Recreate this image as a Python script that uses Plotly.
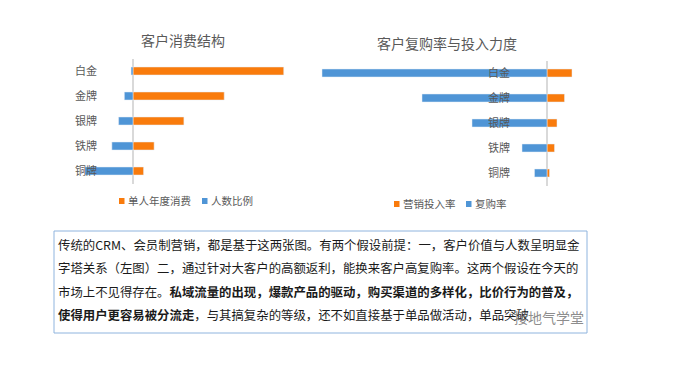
import plotly.graph_objects as go

# ---------------- data ----------------
tiers = ["白金", "金牌", "银牌", "铁牌", "铜牌"]
# left chart: 客户消费结构
spend_per_person = [157, 95, 53, 22, 11]   # 单人年度消费 (relative units)
people_share = [2, 9, 15, 22, 50]          # 人数比例 (%)
# right chart: 客户复购率与投入力度
marketing_rate = [10, 7, 4, 3, 1]          # 营销投入率 (%)
repurchase_rate = [90, 50, 30, 10, 5]      # 复购率 (%)

title_left = "客户消费结构"
title_right = "客户复购率与投入力度"
legend_left = ["单人年度消费", "人数比例"]
legend_right = ["营销投入率", "复购率"]
text_lines = [
    "传统的CRM、会员制营销，都是基于这两张图。有两个假设前提：一，客户价值与人数呈明显金",
    "字塔关系（左图）二，通过针对大客户的高额返利，能换来客户高复购率。这两个假设在今天的",
    "市场上不见得存在。<b>私域流量的出现，爆款产品的驱动，购买渠道的多样化，比价行为的普及，</b>",
    "<b>使得用户更容易被分流走</b>，与其搞复杂的等级，还不如直接基于单品做活动，单品突破",
]
watermark = "接地气学堂"

# ---------------- style ----------------
W, H = 690, 376
ORANGE = "#F97B0C"
BLUE = "#4F95D6"
GRAY = "#595959"
FONT = "Noto Sans CJK SC"

def px(x):
    return x / W

def py(y):
    return 1 - y / H

fig = go.Figure()

# left chart bars
fig.add_trace(go.Bar(y=tiers, x=spend_per_person, orientation="h", marker_color=ORANGE,
                     width=0.32, xaxis="x", yaxis="y", name=legend_left[0]))
fig.add_trace(go.Bar(y=tiers, x=[-v for v in people_share], orientation="h", marker_color=BLUE,
                     width=0.32, xaxis="x", yaxis="y", name=legend_left[1]))
# right chart bars
fig.add_trace(go.Bar(y=tiers, x=marketing_rate, orientation="h", marker_color=ORANGE,
                     width=0.32, xaxis="x2", yaxis="y2", name=legend_right[0]))
fig.add_trace(go.Bar(y=tiers, x=[-v for v in repurchase_rate], orientation="h", marker_color=BLUE,
                     width=0.32, xaxis="x2", yaxis="y2", name=legend_right[1]))

ax_common = dict(showgrid=False, showticklabels=False, ticks="", showline=False,
                 zeroline=True, zerolinecolor="#D9D9D9", zerolinewidth=1.5, fixedrange=True)
yax_common = dict(type="category", autorange="reversed", showgrid=False, ticks="",
                  showline=False, zeroline=False, anchor="free",
                  tickfont=dict(family=FONT, size=11, color=GRAY))

l_scale = 0.96
r_scale = 2.5
fig.update_layout(
    width=W, height=H,
    margin=dict(l=0, r=0, t=0, b=0),
    paper_bgcolor="white", plot_bgcolor="rgba(0,0,0,0)",
    barmode="overlay",
    showlegend=False,
    font=dict(family=FONT, color=GRAY),
    xaxis=dict(domain=[px(75), px(295)], range=[(75 - 133) / l_scale, (295 - 133) / l_scale],
               anchor="y", **ax_common),
    yaxis=dict(domain=[py(183.5), py(58.5)], position=px(97), **yax_common),
    xaxis2=dict(domain=[px(315), px(580)], range=[(315 - 547) / r_scale, (580 - 547) / r_scale],
                anchor="y2", **ax_common),
    yaxis2=dict(domain=[py(185.5), py(60.5)], position=px(510), **yax_common),
)

annotations = [
    dict(text=title_left, x=px(183), y=py(40), xref="paper", yref="paper", showarrow=False,
         xanchor="center", yanchor="middle", font=dict(family=FONT, size=14, color=GRAY)),
    dict(text=title_right, x=px(447), y=py(43), xref="paper", yref="paper", showarrow=False,
         xanchor="center", yanchor="middle", font=dict(family=FONT, size=14, color=GRAY)),
]

# legends: small colour squares + labels
legend_items = [
    (legend_left[0], ORANGE, 119, 126, 201),
    (legend_left[1], BLUE, 202, 209, 201),
    (legend_right[0], ORANGE, 394, 401, 204),
    (legend_right[1], BLUE, 466, 473, 204),
]
for name, color, sx, tx, yy in legend_items:
    fig.add_shape(type="rect", xref="paper", yref="paper",
                  x0=px(sx), x1=px(sx + 5.5), y0=py(yy + 3), y1=py(yy - 3),
                  fillcolor=color, line=dict(width=0))
    annotations.append(dict(text=name, x=px(tx), y=py(yy), xref="paper", yref="paper",
                            showarrow=False, xanchor="left", yanchor="middle",
                            font=dict(family=FONT, size=10.5, color=GRAY)))

line_y = [245, 268, 292, 315]
for t, yy in zip(text_lines, line_y):
    annotations.append(dict(text=t, x=px(56), y=py(yy), xref="paper", yref="paper",
                            showarrow=False, xanchor="left", yanchor="middle",
                            font=dict(family=FONT, size=12.4, color="#1a1a1a")))
annotations.append(dict(text=watermark, x=px(586), y=py(317), xref="paper", yref="paper",
                        showarrow=False, xanchor="right", yanchor="middle",
                        font=dict(family=FONT, size=14, color="rgba(120,120,120,0.85)")))
fig.update_layout(annotations=annotations)

fig.add_shape(type="rect", xref="paper", yref="paper", x0=px(54), x1=px(587), y0=py(333), y1=py(231),
              line=dict(color="#8FB4DE", width=1), fillcolor="rgba(0,0,0,0)")

fig.write_html("out.html")
